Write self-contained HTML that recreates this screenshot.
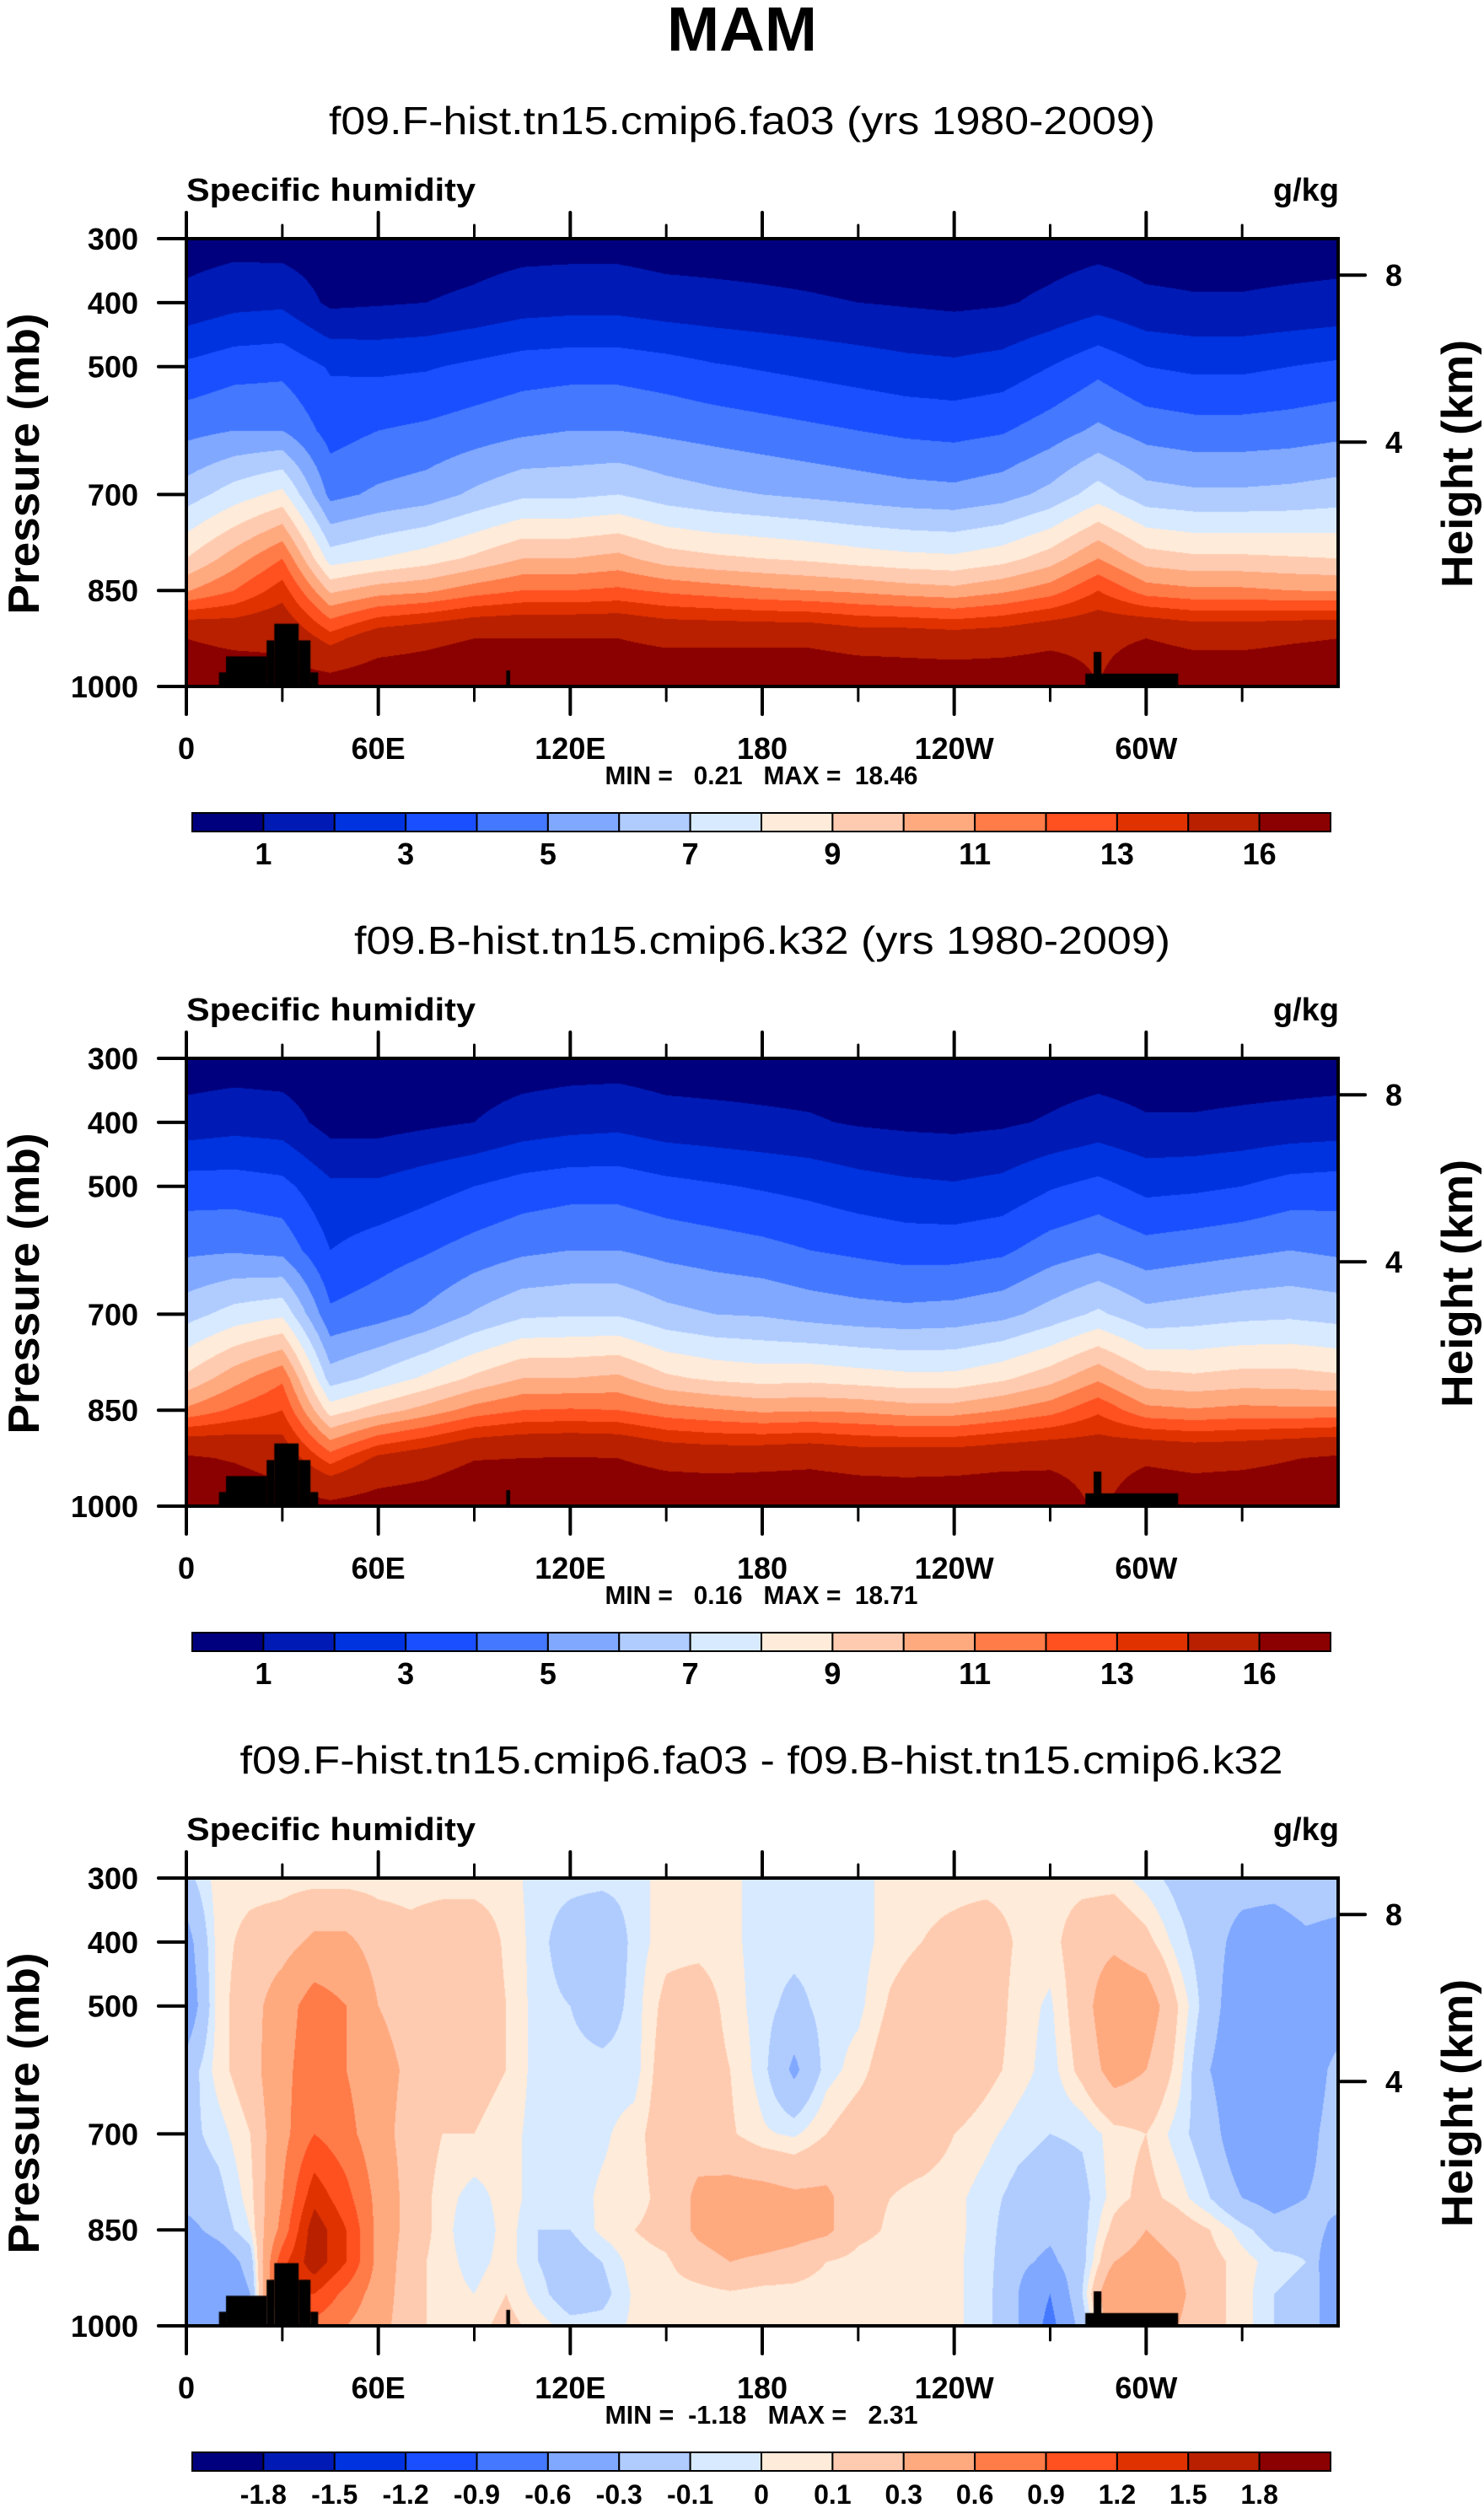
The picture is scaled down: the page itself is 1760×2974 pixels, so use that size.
<!DOCTYPE html>
<html><head><meta charset="utf-8">
<style>
html,body{margin:0;padding:0;background:#fff;}
#wrap{position:relative;width:1760px;height:2974px;overflow:hidden;background:#fff;}
canvas{position:absolute;left:221px;}
svg{position:absolute;left:0;top:0;}
text{font-family:"Liberation Sans",Arial,sans-serif;fill:#000;}
</style></head>
<body>
<div id="wrap">
<canvas id="c0" width="1366" height="531" style="top:283px"></canvas>
<canvas id="c1" width="1366" height="531" style="top:1255px"></canvas>
<canvas id="c2" width="1366" height="531" style="top:2227px"></canvas>
<svg id="ov" width="1760" height="2974" xmlns="http://www.w3.org/2000/svg">
<text x="880" y="60" text-anchor="middle" font-size="74" font-weight="bold" textLength="178" lengthAdjust="spacingAndGlyphs">MAM</text>
</svg>
</div>
<script>
// ---------- DATA ----------
const levels = [300,400,500,600,700,800,850,925,1000];
const lons15 = [0,15,30,45,60,75,90,105,120,135,150,165,180,195,210,225,240,255,270,285,300,315,330,345,360];
const q1p300 = [0.5,0.6,0.5,0.4,0.4,0.4,0.5,0.6,0.6,0.6,0.5,0.5,0.5,0.5,0.4,0.4,0.4,0.4,0.5,0.6,0.5,0.5,0.5,0.5,0.5];
const q1p400 = [1.3,1.7,1.8,0.8,0.9,1.0,1.2,1.5,1.6,1.6,1.4,1.3,1.2,1.1,1.0,0.9,0.8,0.9,1.2,1.6,1.2,1.1,1.1,1.2,1.3];
const q1p500 = [3.2,3.6,3.7,2.9,2.8,2.9,3.2,3.5,3.6,3.6,3.4,3.1,2.9,2.7,2.5,2.3,2.2,2.4,3.0,3.7,3.0,2.8,2.8,3.0,3.2];
const q1p600 = [4.7,5.0,5.0,3.6,4.0,4.2,4.5,4.8,5.0,5.0,4.8,4.6,4.4,4.2,4.0,3.8,3.7,3.9,4.5,5.2,4.6,4.4,4.4,4.5,4.7];
const q1p700 = [6.5,7.5,8.3,4.7,5.2,5.5,6.2,6.8,6.8,7.0,6.5,6.2,6.0,5.8,5.6,5.4,5.3,5.6,6.3,7.5,6.4,6.2,6.2,6.3,6.5];
const q1p800 = [9,10.5,12,7.5,8,8.5,9.2,10,10,10.3,9.5,9.2,9,8.8,8.5,8.3,8.2,8.6,9.5,11,9.5,9.2,9.2,9.1,9];
const q1p850 = [10.9,12,13.5,9.8,10.5,10.8,11.5,12,12,12.2,11.8,11.5,11.2,11,10.8,10.5,10.3,10.8,11.5,13,11.5,11.2,11.2,11,10.9];
const q1p925 = [16,15.5,15.5,13.5,15,15.5,16,16,16,16,15.5,15.5,15.5,15.5,15,15,14.8,15,15.5,15.5,16,15.5,15.5,15.8,16];
const q1p1000 = [17.5,17.5,17,17,17.5,17.5,18,18,18,18,18,18,18,18,17.8,17.5,17.5,17.5,17.5,16,17.8,17.5,17.5,17.5,17.5];

const q2p300 = [0.45,0.5,0.45,0.35,0.35,0.35,0.45,0.5,0.55,0.55,0.45,0.45,0.45,0.45,0.35,0.35,0.35,0.35,0.45,0.5,0.45,0.45,0.45,0.45,0.45];
const q2p400 = [1.4,1.6,1.5,0.6,0.6,0.8,1.0,1.4,1.6,1.7,1.4,1.3,1.2,1.1,0.9,0.8,0.75,0.85,1.1,1.4,1.1,1.1,1.2,1.3,1.4];
const q2p500 = [3.5,3.5,3.3,2.2,2.2,2.6,3.0,3.4,3.6,3.6,3.3,3.1,2.9,2.7,2.4,2.2,2.1,2.3,2.9,3.3,2.7,2.8,3.0,3.4,3.5];
const q2p600 = [4.8,4.9,4.7,3.0,3.5,3.9,4.4,4.8,5.0,5.0,4.7,4.5,4.3,4.0,3.8,3.6,3.6,3.8,4.5,4.9,4.4,4.6,4.8,5.0,4.8];
const q2p700 = [6.6,7.4,7.8,4.2,4.6,5.2,6.1,6.8,6.9,6.9,6.3,6.0,5.9,5.6,5.4,5.3,5.4,5.7,6.4,7.2,6.3,6.5,6.7,6.8,6.6];
const q2p800 = [9.2,10.6,11.8,6.5,7.3,8.2,9.2,10,10,10.2,9.2,8.8,8.6,8.7,8.5,8.3,8.3,8.8,9.6,10.8,9.4,9.2,9.4,9.4,9.2];
const q2p850 = [11.2,12.2,13,8.5,9.5,10.4,11.4,12,12.1,12,11.4,11.1,10.8,10.9,10.8,10.5,10.5,11,11.6,12.8,11.3,11.1,11.3,11.2,11.2];
const q2p925 = [16.3,15.8,15,12.5,14.3,15,15.9,16,16.1,16,15.3,15.1,15.2,15.4,15,15,15,15.3,15.5,15.2,15.7,15.4,15.5,15.9,16.3];
const q2p1000 = [17.8,17.8,17,16.5,17,17.2,17.9,18,18,18,17.9,17.9,18,18,17.8,17.5,17.7,17.8,17.5,15.6,17.5,17.3,17.5,17.6,17.8];

const dLevels = [300,400,500,600,700,800,850,900,950,1000];
const lons10 = [0,10,20,30,40,50,60,70,80,90,100,110,120,130,140,150,160,170,180,190,200,210,220,230,240,250,260,270,280,290,300,310,320,330,340,350,360];
const dp300 = [-0.15,0.05,0.05,0.05,0.05,0.05,0.05,0.05,0.05,0.05,0.05,-0.05,-0.05,-0.05,-0.05,0.05,0.05,0.03,-0.05,-0.05,-0.05,-0.05,0.05,0.05,0.05,0.05,0.05,0.05,0.05,0.05,-0.05,-0.15,-0.2,-0.2,-0.2,-0.15,-0.15];
const dp400 = [-0.4,0.05,0.15,0.2,0.35,0.35,0.2,0.15,0.2,0.2,0.08,-0.05,-0.2,-0.3,-0.05,0.05,0.05,0.03,-0.05,-0.05,-0.05,-0.05,0.05,0.1,0.15,0.2,0.08,0.05,0.2,0.25,0.15,-0.05,-0.2,-0.4,-0.45,-0.35,-0.4];
const dp500 = [-0.5,0.05,0.2,0.45,0.75,0.6,0.3,0.2,0.2,0.2,0.1,-0.05,-0.1,-0.2,-0.05,0.15,0.2,0.05,-0.05,-0.15,-0.05,-0.03,0.12,0.2,0.25,0.2,0.05,-0.02,0.2,0.5,0.45,0.1,-0.2,-0.5,-0.55,-0.5,-0.5];
const dp600 = [-0.2,0.05,0.2,0.5,0.8,0.6,0.4,0.25,0.15,0.15,0.1,-0.05,-0.05,-0.05,-0.05,0.2,0.2,0.1,-0.05,-0.35,-0.05,0.05,0.2,0.25,0.25,0.15,0.05,-0.05,0.15,0.4,0.3,0.05,-0.3,-0.5,-0.6,-0.5,-0.2];
const dp700 = [-0.15,-0.05,0.1,0.5,0.9,0.7,0.4,0.2,0.1,0.1,0.05,-0.05,-0.05,-0.02,0.05,0.2,0.2,0.12,0.02,-0.02,0.1,0.2,0.2,0.2,0.1,0.03,-0.05,-0.1,-0.08,0.05,0.1,-0.05,-0.2,-0.5,-0.6,-0.4,-0.15];
const dp800 = [-0.2,-0.15,0.05,0.6,1.4,1.0,0.5,0.2,0.05,-0.05,0.05,-0.05,-0.05,0.02,0.05,0.15,0.35,0.4,0.4,0.35,0.35,0.15,0.1,0.05,0.03,-0.05,-0.15,-0.2,-0.15,0.05,0.15,0.05,-0.1,-0.3,-0.4,-0.3,-0.2];
const dp850 = [-0.4,-0.2,0.0,0.7,1.7,1.2,0.5,0.2,0.05,-0.1,0.05,-0.1,-0.1,0.03,0.1,0.15,0.35,0.45,0.45,0.4,0.35,0.15,0.08,0.05,0.03,-0.05,-0.2,-0.25,-0.15,0.15,0.3,0.2,0.1,-0.05,-0.2,-0.15,-0.4];
const dp900 = [-0.6,-0.5,-0.2,1.1,1.7,1.2,0.5,0.15,0.05,-0.05,0.05,-0.1,-0.2,-0.1,0.05,0.08,0.2,0.3,0.25,0.2,0.1,0.05,0.03,0.03,0.02,-0.05,-0.25,-0.35,-0.15,0.3,0.4,0.3,0.15,0.05,-0.05,-0.1,-0.6];
const dp950 = [-0.5,-0.6,-0.3,1.2,1.2,0.8,0.45,0.15,0.05,0.0,0.1,-0.05,-0.2,-0.15,0.02,0.05,0.05,0.08,0.05,0.05,0.03,0.02,0.02,0.02,0.02,-0.05,-0.3,-0.6,-0.1,0.6,0.5,0.35,0.15,0.05,-0.1,-0.15,-0.5];
const dp1000 = [-0.3,-0.4,-0.2,0.5,0.8,0.6,0.4,0.15,0.05,0.05,0.15,0.05,-0.05,-0.05,0.02,0.03,0.1,0.08,0.05,0.05,0.03,0.02,0.02,0.02,0.02,-0.05,-0.3,-0.7,-0.2,0.5,0.45,0.3,0.15,0.05,-0.1,-0.3,-0.3];

const qBounds = [1,2,3,4,5,6,7,8,9,10,11,12,13,14,16];
const dBounds = [-1.8,-1.5,-1.2,-0.9,-0.6,-0.3,-0.1,0,0.1,0.3,0.6,0.9,1.2,1.5,1.8];
const qCbLabels = ["1","","3","","5","","7","","9","","11","","13","","16"];
const dCbLabels = ["-1.8","-1.5","-1.2","-0.9","-0.6","-0.3","-0.1","0","0.1","0.3","0.6","0.9","1.2","1.5","1.8"];
const palette = ["#00007f","#001bb5","#0033e0","#1a4fff","#4478ff","#80a8ff","#b0ccff","#d8eaff","#ffebd9","#ffcbb0","#ffa97f","#ff7b48","#ff5020","#e03200","#b82000","#8b0000"];

const topoStart = [10.2,12.4,25.1,27.5,35.1,38.8,100,281,283.6];
const topoEnd   = [12.4,25.1,27.5,35.1,38.8,41.2,101.2,310,286];
const topoTop   = [978,953,928,902,928,978,975,980,946];

const xTickLon = [0,60,120,180,240,300];
const xTickLab = ["0","60E","120E","180","120W","60W"];
const xMinorLon = [30,90,150,210,270,330];
const pTicks = [300,400,500,700,850,1000];
const hTicksKm = ["8","4"];
const hTicksP = [357,618];

const panelTitles = ["f09.F-hist.tn15.cmip6.fa03 (yrs 1980-2009)","f09.B-hist.tn15.cmip6.k32 (yrs 1980-2009)","f09.F-hist.tn15.cmip6.fa03 - f09.B-hist.tn15.cmip6.k32"];
const minmaxText = ["MIN =   0.21   MAX =  18.46","MIN =   0.16   MAX =  18.71","MIN =  -1.18   MAX =   2.31"];

// ---------- LAYOUT ----------
const W=1366,H=531,X0=221;
const panelTop=[283,1255,2227];
const titleLen=[980,968,1237];
const titleX=[880,904,903];
function xOfLon(l){return X0+l/360*W;}
function yOfP(p,k){return panelTop[k]+(p-300)/700*H;}

function hexRGB(h){return [parseInt(h.substr(1,2),16),parseInt(h.substr(3,2),16),parseInt(h.substr(5,2),16)];}
const palRGB=palette.map(hexRGB);

function render(canvasId, rows, lons, levs, bounds){
  const cv=document.getElementById(canvasId), ctx=cv.getContext('2d');
  const img=ctx.createImageData(W,H), d=img.data;
  const step=lons[1]-lons[0];
  const col=new Array(levs.length);
  for(let px=0;px<W;px++){
    const lon=(px+0.5)/W*360;
    let i=Math.min(Math.floor(lon/step),lons.length-2); const f=(lon-lons[i])/step;
    for(let j=0;j<levs.length;j++) col[j]=rows[j][i]*(1-f)+rows[j][i+1]*f;
    let j=0;
    for(let py=0;py<H;py++){
      const p=300+(py+0.5)/H*700;
      while(j<levs.length-2 && p>levs[j+1]) j++;
      const g=(p-levs[j])/(levs[j+1]-levs[j]);
      const v=col[j]*(1-g)+col[j+1]*g;
      let c=0; while(c<bounds.length && v>=bounds[c]) c++;
      const rgb=palRGB[c], o=(py*W+px)*4;
      d[o]=rgb[0];d[o+1]=rgb[1];d[o+2]=rgb[2];d[o+3]=255;
    }
  }
  ctx.putImageData(img,0,0);
  ctx.fillStyle='#000';
  for(let t=0;t<topoStart.length;t++){
    const x1=topoStart[t]/360*W, x2=topoEnd[t]/360*W, y1=(topoTop[t]-300)/700*H;
    ctx.fillRect(x1,y1,x2-x1,H-y1);
  }
}
render('c0',[q1p300,q1p400,q1p500,q1p600,q1p700,q1p800,q1p850,q1p925,q1p1000],lons15,levels,qBounds);
render('c1',[q2p300,q2p400,q2p500,q2p600,q2p700,q2p800,q2p850,q2p925,q2p1000],lons15,levels,qBounds);
render('c2',[dp300,dp400,dp500,dp600,dp700,dp800,dp850,dp900,dp950,dp1000],lons10,dLevels,dBounds);

// ---------- AXES / TEXT ----------
const NS="http://www.w3.org/2000/svg", svg=document.getElementById('ov');
function el(tag,attrs){const e=document.createElementNS(NS,tag);for(const k in attrs)e.setAttribute(k,attrs[k]);svg.appendChild(e);return e;}
function line(x1,y1,x2,y2,w){return el('line',{x1:x1,y1:y1,x2:x2,y2:y2,stroke:'#000','stroke-width':w,'stroke-linecap':'round'});}
function txt(s,x,y,size,bold,anchor){const t=el('text',{x:x,y:y,'font-size':size,'font-weight':bold?'bold':'normal','text-anchor':anchor||'middle'});t.textContent=s;return t;}

for(let k=0;k<3;k++){
  const top=panelTop[k], bot=top+H, right=X0+W;
  let t=txt(panelTitles[k],titleX[k],top-124,46,false);
  t.setAttribute('textLength',titleLen[k]);
  t.setAttribute('lengthAdjust','spacingAndGlyphs');
  
  
  t=txt('Specific humidity',X0,top-45,38,true,'start');
  t.setAttribute('textLength',343);
  t.setAttribute('lengthAdjust','spacingAndGlyphs');
  
  
  t=txt('g/kg',right+1,top-45,38,true,'end');
  
  
  const box=el('rect',{x:X0,y:top,width:W,height:H,fill:'none',stroke:'#000','stroke-width':4});
  
  
  for(let i=0;i<xTickLon.length;i++){
    const x=xOfLon(xTickLon[i]);
    let l=line(x,bot,x,bot+33,4);
    
    
    l=line(x,top,x,top-31,4);
    
    
    t=txt(xTickLab[i],x,bot+86,36,true);
    
    
  }
  for(let i=0;i<xMinorLon.length;i++){
    const x=xOfLon(xMinorLon[i]);
    let l=line(x,bot,x,bot+17,3);
    
    
    l=line(x,top,x,top-16,3);
    
    
  }
  for(let i=0;i<pTicks.length;i++){
    const y=yOfP(pTicks[i],k);
    let l=line(X0-33,y,X0,y,4);
    
    
    t=txt(String(pTicks[i]),164,y+13,36,true,'end');
    
    
  }
  for(let i=0;i<hTicksKm.length;i++){
    const y=yOfP(hTicksP[i],k);
    let l=line(right,y,right+32,y,4);
    
    
    t=txt(hTicksKm[i],1653,y+13,36,true);
    
    
  }
  const cy=top+267;
  t=txt('Pressure (mb)',0,0,52,true);
  t.setAttribute('transform','translate(46,'+cy+') rotate(-90)');
  t.setAttribute('textLength',357);
  t.setAttribute('lengthAdjust','spacingAndGlyphs');
  
  
  t=txt('Height (km)',0,0,52,true);
  t.setAttribute('transform','translate(1746,'+cy+') rotate(-90)');
  t.setAttribute('textLength',294);
  t.setAttribute('lengthAdjust','spacingAndGlyphs');
  
  
  t=txt(minmaxText[k],903,top+647,31,true);
  t.setAttribute('style','white-space:pre');
  t.setAttribute('textLength',371);
  t.setAttribute('lengthAdjust','spacingAndGlyphs');
  
  
  // colorbar
  const cbY=top+681, cbX=228, segW=84.375, labs=(k<2)?qCbLabels:dCbLabels;
  for(let c=0;c<palette.length;c++){
    const r=el('rect',{x:cbX+c*segW,y:cbY,width:segW,height:22,fill:palette[c],stroke:'#000','stroke-width':2});
    
    
  }
  for(let b=0;b<labs.length;b++){
    if(!labs[b]) continue;
    t=txt(labs[b],cbX+(b+1)*segW,cbY+61,(k<2)?36:32,true);
    
    
  }
}
</script>
</body></html>
